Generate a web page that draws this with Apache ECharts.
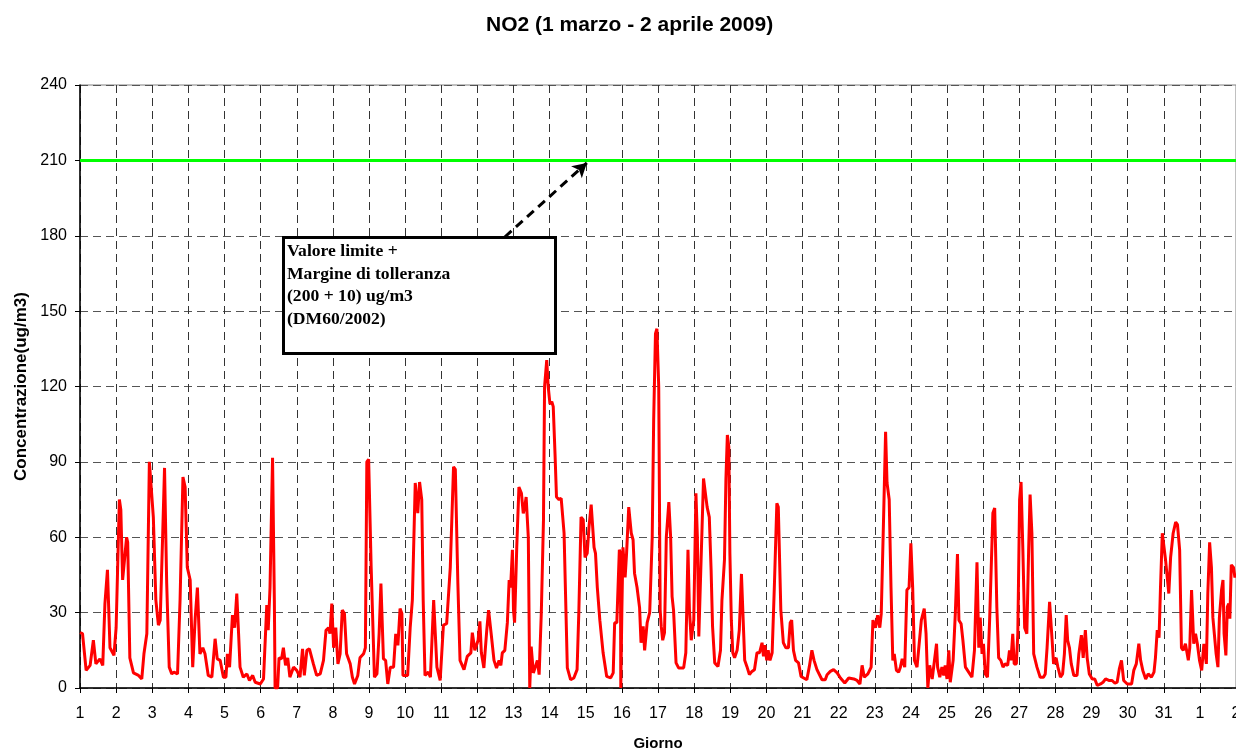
<!DOCTYPE html>
<html>
<head>
<meta charset="utf-8">
<script src="https://cdn.jsdelivr.net/npm/echarts@6/dist/echarts.min.js"></script>
<style>
  html, body { margin: 0; padding: 0; background: #fff; }
  #chart { width: 1236px; height: 754px; }
</style>
</head>
<body>
<div id="chart"></div>
<script>
  // giorno (1 = 1 marzo, 32 = 1 aprile, 33 = 2 aprile) e concentrazione NO2 (ug/m3)
  const giorni = [
    1.0, 1.07, 1.17, 1.28, 1.37, 1.44, 1.55, 1.63, 1.69, 1.76, 1.83, 1.94, 2.0, 2.09, 2.13, 2.18, 2.2, 2.29, 2.32, 2.38,
    2.48, 2.62, 2.71, 2.77, 2.85, 2.92, 2.97, 3.03, 3.1, 3.17, 3.22, 3.29, 3.34, 3.4, 3.47, 3.54, 3.6, 3.7, 3.77, 3.85,
    3.91, 3.97, 4.05, 4.12, 4.19, 4.25, 4.32, 4.4, 4.46, 4.55, 4.65, 4.74, 4.8, 4.88, 4.97, 5.04, 5.08, 5.14, 5.22, 5.28,
    5.34, 5.39, 5.43, 5.52, 5.62, 5.69, 5.78, 5.85, 5.99, 6.08, 6.17, 6.21, 6.26, 6.33, 6.38, 6.4, 6.47, 6.51, 6.58, 6.63,
    6.69, 6.75, 6.81, 6.91, 7.0, 7.09, 7.16, 7.21, 7.28, 7.35, 7.46, 7.55, 7.65, 7.74, 7.81, 7.88, 7.92, 7.97, 8.02, 8.08,
    8.14, 8.2, 8.26, 8.32, 8.38, 8.48, 8.54, 8.6, 8.69, 8.75, 8.85, 8.9, 8.94, 8.99, 9.06, 9.15, 9.22, 9.28, 9.33, 9.4,
    9.46, 9.52, 9.59, 9.68, 9.74, 9.8, 9.86, 9.91, 9.94, 10.07, 10.14, 10.2, 10.28, 10.32, 10.35, 10.4, 10.46, 10.5, 10.55, 10.64,
    10.7, 10.79, 10.84, 10.88, 10.97, 11.06, 11.15, 11.25, 11.34, 11.39, 11.46, 11.52, 11.63, 11.72, 11.82, 11.86, 11.93, 12.02, 12.07, 12.11,
    12.18, 12.26, 12.31, 12.39, 12.46, 12.53, 12.6, 12.65, 12.69, 12.76, 12.83, 12.88, 12.92, 12.97, 13.0, 13.03, 13.09, 13.15, 13.22, 13.27,
    13.31, 13.35, 13.41, 13.45, 13.49, 13.55, 13.61, 13.66, 13.71, 13.77, 13.83, 13.86, 13.92, 13.96, 14.01, 14.06, 14.1, 14.15, 14.19, 14.26,
    14.32, 14.4, 14.44, 14.49, 14.58, 14.67, 14.76, 14.81, 14.87, 14.93, 14.98, 15.04, 15.09, 15.15, 15.23, 15.27, 15.32, 15.39, 15.48, 15.58,
    15.69, 15.76, 15.8, 15.86, 15.93, 15.96, 15.97, 16.0, 16.03, 16.09, 16.13, 16.19, 16.26, 16.31, 16.35, 16.42, 16.49, 16.53, 16.59, 16.63,
    16.7, 16.77, 16.84, 16.88, 16.93, 16.97, 17.02, 17.06, 17.09, 17.13, 17.18, 17.23, 17.3, 17.35, 17.39, 17.43, 17.5, 17.57, 17.71, 17.77,
    17.83, 17.87, 17.92, 17.99, 18.05, 18.09, 18.13, 18.17, 18.22, 18.26, 18.31, 18.36, 18.42, 18.47, 18.51, 18.57, 18.66, 18.73, 18.77, 18.84,
    18.88, 18.92, 18.96, 18.99, 19.03, 19.07, 19.12, 19.19, 19.25, 19.31, 19.35, 19.4, 19.46, 19.53, 19.6, 19.67, 19.74, 19.81, 19.88, 19.92,
    19.96, 20.01, 20.05, 20.1, 20.16, 20.22, 20.29, 20.33, 20.4, 20.47, 20.54, 20.61, 20.66, 20.7, 20.75, 20.81, 20.89, 20.96, 21.12, 21.19,
    21.26, 21.32, 21.4, 21.45, 21.54, 21.63, 21.68, 21.77, 21.86, 21.96, 22.05, 22.17, 22.28, 22.42, 22.51, 22.59, 22.65, 22.71, 22.81, 22.9,
    22.95, 23.02, 23.08, 23.14, 23.18, 23.25, 23.3, 23.34, 23.4, 23.45, 23.5, 23.54, 23.6, 23.66, 23.71, 23.76, 23.79, 23.83, 23.89, 23.95,
    24.0, 24.05, 24.1, 24.17, 24.22, 24.29, 24.33, 24.37, 24.42, 24.47, 24.52, 24.59, 24.64, 24.71, 24.74, 24.8, 24.86, 24.91, 24.95, 25.0,
    25.05, 25.09, 25.17, 25.23, 25.29, 25.33, 25.39, 25.44, 25.51, 25.6, 25.69, 25.76, 25.83, 25.88, 25.92, 25.97, 26.01, 26.06, 26.12, 26.18,
    26.23, 26.27, 26.32, 26.38, 26.43, 26.49, 26.55, 26.61, 26.68, 26.73, 26.77, 26.82, 26.86, 26.92, 26.96, 27.01, 27.05, 27.1, 27.15, 27.21,
    27.26, 27.3, 27.35, 27.4, 27.49, 27.58, 27.67, 27.72, 27.77, 27.84, 27.91, 27.95, 28.02, 28.07, 28.14, 28.2, 28.25, 28.3, 28.34, 28.39,
    28.44, 28.51, 28.6, 28.65, 28.72, 28.77, 28.83, 28.88, 28.94, 29.02, 29.09, 29.16, 29.25, 29.32, 29.39, 29.48, 29.57, 29.65, 29.71, 29.77,
    29.83, 29.89, 29.99, 30.11, 30.17, 30.24, 30.31, 30.36, 30.42, 30.5, 30.57, 30.66, 30.73, 30.77, 30.82, 30.87, 30.91, 30.96, 31.0, 31.05,
    31.1, 31.14, 31.19, 31.26, 31.33, 31.38, 31.44, 31.49, 31.54, 31.6, 31.68, 31.72, 31.77, 31.83, 31.88, 31.93, 31.99, 32.05, 32.11, 32.18,
    32.22, 32.27, 32.32, 32.36, 32.41, 32.45, 32.5, 32.54, 32.6, 32.64, 32.67, 32.72, 32.76, 32.8, 32.83, 32.87, 32.93, 32.97, 33.0
  ];
  const no2 = [
    22, 21.6, 7, 9, 19, 9.6, 11.6, 9, 33.6, 47, 16, 13, 24, 75, 71, 43, 43, 60, 58, 12,
    6, 5, 3.6, 13.6, 21.6, 90, 90, 68, 35, 25, 27, 61.6, 87.6, 41.6, 8.3, 5.6, 6.3, 5.6, 35, 84,
    80, 48, 43, 8.3, 28, 40, 13.6, 16, 13.6, 5, 4.3, 19.6, 11.6, 11, 4.3, 4.3, 13.6, 8.3, 29, 24,
    37.6, 21.6, 8.3, 4.3, 5.6, 3, 5, 2.3, 1.6, 3.6, 33, 23, 40, 91.6, 35, 0, 0, 12, 11.6, 16,
    9, 12, 4.3, 8.3, 7, 4.3, 15.6, 5, 15, 15.6, 9.6, 5, 5.6, 11, 23, 24, 21.6, 33.6, 16, 24,
    9.6, 13.6, 31, 29.6, 13.6, 9.6, 4.3, 1.6, 5, 12, 13.6, 16, 90, 91, 48, 4.3, 5.6, 21.6, 41.6, 11.6,
    11, 1.6, 8.3, 8.3, 21.6, 17, 31.6, 29.6, 5, 5, 24, 35, 81.6, 82, 69.6, 82, 75, 35, 5, 6.3,
    4.3, 35, 34.3, 8.3, 3, 25, 25.6, 48, 88, 87, 41.6, 11, 7.3, 12.6, 14, 22, 15, 19, 26.5, 14,
    8, 23, 31, 20.5, 11, 8, 11, 9, 14, 15, 26, 43, 40, 55, 31, 26, 56, 80, 77.5, 69.5,
    72, 76, 60, 0, 16.5, 6, 8.6, 11, 5.3, 30, 67, 120, 130.5, 120, 113, 114, 112, 93, 76, 75,
    75.5, 61.6, 37.7, 8, 3.3, 4, 7.3, 31, 68, 67, 52, 53.6, 64, 73, 56, 53.6, 40, 27, 14, 4.6,
    4, 6, 26, 26, 55, 53.6, 0, 31, 56, 44, 53.6, 72, 61.6, 59, 45.7, 40, 32, 18, 24.5, 15,
    26, 30, 60, 106.6, 141, 143, 120, 31, 24.5, 19, 22, 60, 74, 60, 36.4, 31, 10, 8, 8, 14,
    55, 31, 19, 27, 77.5, 60, 20.5, 40, 64, 83.4, 83, 72, 68, 47, 24.5, 10, 8.6, 15, 35, 51,
    83, 100.7, 96, 53.6, 27, 14, 12, 15, 23, 45.4, 30, 11, 8.6, 5.3, 6.6, 7.3, 14, 14, 18, 12.6,
    17, 11, 15, 11, 14, 40, 73.5, 72, 31, 18, 16, 16, 26, 27, 15, 11, 10, 4.6, 3.3, 8.6,
    15, 11, 7.3, 6.6, 3.3, 3.3, 5.3, 6.6, 7.3, 6, 4, 2, 4, 3.6, 3, 1.6, 9, 4.3, 5.6, 8.3,
    27, 24, 29, 24, 29.6, 71, 102, 81.6, 75, 40, 11, 13.6, 7, 6.3, 8.3, 11.6, 12, 8.3, 39, 40,
    57.6, 40, 11, 8.3, 8.3, 27, 27, 31.6, 21.6, 0, 9, 3.6, 3.6, 17.6, 8.3, 4.3, 8.3, 5, 9, 3.6,
    15, 2.3, 11, 29.6, 53.3, 27, 25.6, 19, 8.3, 6.3, 4.3, 15, 50, 16, 28, 13.6, 17.6, 5.6, 4.3, 27,
    27, 69.6, 71.6, 32, 12, 11, 8.3, 9.6, 9, 15, 11, 21.6, 9.6, 9.6, 21.6, 75, 82, 55, 24, 21.6,
    55, 77, 61.6, 13.6, 8.3, 4.3, 4.3, 5.6, 16, 34.3, 19, 9.6, 12, 8.3, 4.3, 5.6, 13.6, 29, 19, 16,
    9.6, 5, 5, 13.6, 21, 12, 23, 12, 5.6, 3.6, 3.6, 1, 1.6, 2.3, 3.6, 3, 3, 1.9, 2.3, 7.6,
    11, 3, 1.6, 1.6, 7, 9.6, 17.6, 11, 7, 3.6, 5.6, 4.3, 6.3, 12, 23, 20, 40, 61.6, 62, 51,
    51, 37.6, 52, 61.6, 66, 65, 55, 16, 15, 17.6, 11, 16, 39, 17.6, 21.6, 17.6, 11, 7, 17.6, 9.6,
    37.6, 58, 48, 28, 27.6, 13.6, 8.3, 28, 39, 43, 21.6, 13, 32.3, 33.6, 27.6, 49, 48, 44, 45.6
  ];
  const yTicks = [0, 30, 60, 90, 120, 150, 180, 210, 240];
  const limite = 210;
  const notaTesto = ['Valore limite +', 'Margine di tolleranza', '(200 + 10) ug/m3', '(DM60/2002)'];

  const chart = echarts.init(document.getElementById('chart'));

  const option = {
    animation: false,
    backgroundColor: '#fff',
    title: {
      text: 'NO2 (1 marzo - 2 aprile 2009)',
      left: 481,
      top: 10,
      textStyle: { fontFamily: 'Liberation Sans, Arial', fontSize: 21, fontWeight: 'bold', color: '#000' }
    },
    grid: {
      left: 80,
      right: 0,
      top: 85,
      bottom: 66,
      outerBoundsMode: 'none',
      show: true,
      borderColor: '#808080',
      borderWidth: 1
    },
    xAxis: {
      type: 'value',
      min: 1,
      max: 33,
      interval: 1,
      name: 'Giorno',
      nameLocation: 'middle',
      nameGap: 48,
      nameTextStyle: { fontFamily: 'Liberation Sans, Arial', fontSize: 15, fontWeight: 'bold', color: '#000' },
      axisLine: { show: true, lineStyle: { color: '#000', width: 1.5 } },
      axisTick: { show: true, length: 5, lineStyle: { color: '#000' } },
      axisLabel: {
        showMaxLabel: true,
        margin: 18,
        fontFamily: 'Liberation Sans, Arial',
        fontSize: 16,
        color: '#000',
        formatter: v => (v > 31 ? v - 31 : v)
      },
      splitLine: { show: true, lineStyle: { type: [8, 5], color: '#333', width: 1 } }
    },
    yAxis: {
      type: 'value',
      min: yTicks[0],
      max: yTicks[yTicks.length - 1],
      interval: 30,
      name: 'Concentrazione(ug/m3)',
      nameLocation: 'middle',
      nameGap: 50,
      nameTextStyle: { fontFamily: 'Liberation Sans, Arial', fontSize: 17, fontWeight: 'bold', color: '#000' },
      axisLine: { show: true, lineStyle: { color: '#000', width: 1.5 } },
      axisTick: { show: true, length: 5, lineStyle: { color: '#000' } },
      axisLabel: { margin: 13, fontFamily: 'Liberation Sans, Arial', fontSize: 16, color: '#000' },
      splitLine: { show: true, lineStyle: { type: [8, 5], color: '#555', width: 1 } }
    },
    series: [
      {
        name: 'NO2',
        type: 'line',
        data: giorni.map((g, i) => [g, no2[i]]),
        showSymbol: false,
        lineStyle: { color: '#ff0000', width: 3 },
        clip: true,
        z: 3,
        markLine: {
          silent: true,
          symbol: ['none', 'none'],
          label: { show: false },
          data: [
            { yAxis: limite, lineStyle: { color: '#00ff00', width: 3, type: 'solid' } },
            [
              { coord: [12.76, 179.5], symbol: 'none' },
              { coord: [15.03, 209], symbol: 'arrow', symbolSize: [12, 14] }
            ]
          ],
          lineStyle: { color: '#000', width: 3, type: [9, 6] }
        }
      }
    ],
    graphic: [
      {
        type: 'rect',
        left: 282,
        top: 236,
        shape: { width: 272, height: 116 },
        style: { fill: '#fff', stroke: '#000', lineWidth: 3 },
        z: 10
      },
      {
        type: 'text',
        x: 287,
        y: 241,
        scaleX: 1.1,
        z: 11,
        style: {
          text: notaTesto.join('\n'),
          font: 'bold 16px "Liberation Serif", "Times New Roman", serif',
          lineHeight: 22.5,
          fill: '#000'
        }
      }
    ]
  };

  chart.setOption(option);
</script>
</body>
</html>
